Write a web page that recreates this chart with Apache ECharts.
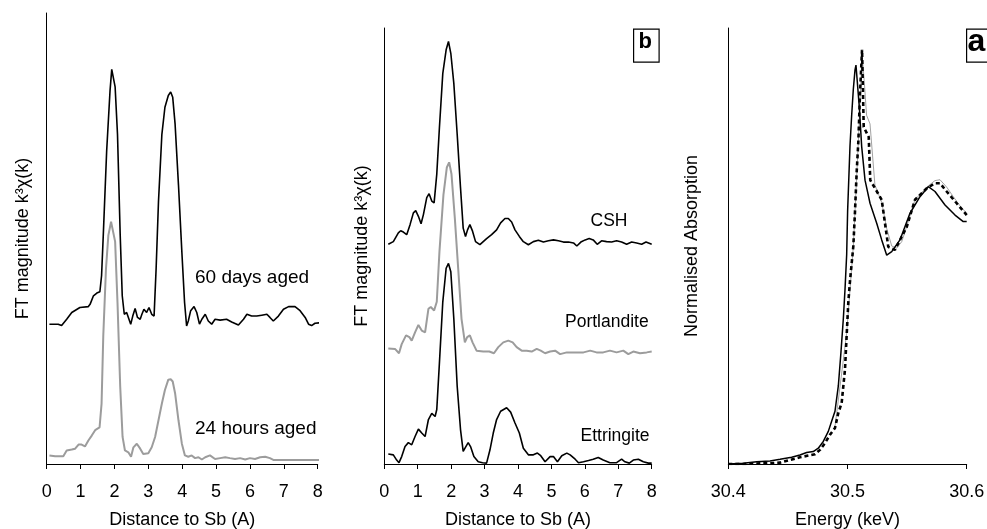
<!DOCTYPE html>
<html>
<head>
<meta charset="utf-8">
<script src="https://cdn.jsdelivr.net/npm/echarts@6/dist/echarts.min.js"></script>
<style>
html,body{margin:0;padding:0;background:#fff;}
#chart{width:987px;height:529px;}
</style>
</head>
<body>
<div id="chart"></div>
<script>
// ---------- Panel 1 : FT magnitude vs distance (aged samples) ----------
const days60 = [[0.08,31.0],[0.34,31.0],[0.44,30.7],[0.59,32.1],[0.74,33.6],[0.98,34.7],[1.23,34.9],[1.28,35.4],[1.38,37.3],[1.48,37.9],[1.57,38.2],[1.62,41.8],[1.67,50.7],[1.77,69.4],[1.87,82.8],[1.92,87.5],[1.97,87.5],[2.02,83.6],[2.09,73.1],[2.17,50.7],[2.23,37.3],[2.29,33.2],[2.36,33.6],[2.41,34.0],[2.48,31.0],[2.54,32.8],[2.61,34.5],[2.68,32.5],[2.76,32.1],[2.81,33.2],[2.87,34.3],[2.95,33.6],[3.02,34.7],[3.10,33.2],[3.17,32.8],[3.23,43.3],[3.30,58.2],[3.40,73.1],[3.49,79.1],[3.59,81.7],[3.66,82.5],[3.72,81.3],[3.79,75.4],[3.89,61.9],[3.99,47.0],[4.07,35.8],[4.13,30.6],[4.18,31.7],[4.25,34.0],[4.35,34.9],[4.43,33.6],[4.51,31.0],[4.58,32.1],[4.68,33.2],[4.77,31.7],[4.87,31.0],[4.97,32.1],[5.12,31.9],[5.31,32.1],[5.46,31.5],[5.66,30.8],[5.81,32.1],[5.91,33.2],[6.05,32.8],[6.20,32.8],[6.35,33.0],[6.50,33.2],[6.59,32.5],[6.69,31.7],[6.84,32.8],[6.99,34.3],[7.14,34.9],[7.33,34.9],[7.48,34.0],[7.63,32.5],[7.73,31.0],[7.82,30.7],[7.92,31.2],[8.05,31.3]];
const hours24 = [[0.08,1.9],[0.25,1.7],[0.49,1.7],[0.59,3.0],[0.74,3.2],[0.84,3.4],[0.94,4.3],[1.03,4.3],[1.13,3.9],[1.23,5.2],[1.33,6.3],[1.43,7.5],[1.56,8.1],[1.62,13.4],[1.67,28.4],[1.75,43.3],[1.82,50.7],[1.90,53.7],[1.95,53.4],[2.02,49.3],[2.09,35.8],[2.17,17.2],[2.24,6.0],[2.31,3.0],[2.41,2.6],[2.49,1.6],[2.56,3.7],[2.66,4.5],[2.76,3.4],[2.85,2.2],[3.00,2.4],[3.10,3.7],[3.20,6.0],[3.30,9.7],[3.40,13.4],[3.49,16.4],[3.59,18.7],[3.66,18.8],[3.72,18.3],[3.79,15.7],[3.89,9.7],[3.99,4.5],[4.08,1.9],[4.18,1.6],[4.28,1.9],[4.38,1.3],[4.48,1.5],[4.58,1.0],[4.68,1.5],[4.82,1.9],[4.97,1.1],[5.12,1.3],[5.27,1.5],[5.41,1.3],[5.56,1.1],[5.71,1.3],[5.86,1.0],[6.00,1.3],[6.15,1.1],[6.30,1.5],[6.45,1.6],[6.59,1.3],[6.69,0.9],[6.99,0.9],[7.48,0.9],[8.05,0.9]];

// ---------- Panel 2 : reference compounds ----------
const csh = [[0.12,50.4],[0.27,51.0],[0.42,53.0],[0.49,53.5],[0.57,53.2],[0.67,52.6],[0.77,54.9],[0.87,57.6],[0.94,58.1],[1.02,56.8],[1.10,55.1],[1.17,57.2],[1.27,61.1],[1.34,62.0],[1.42,60.3],[1.49,59.9],[1.57,66.5],[1.65,77.3],[1.75,89.6],[1.85,95.0],[1.92,96.9],[1.99,94.2],[2.08,87.3],[2.18,75.7],[2.28,63.4],[2.36,54.1],[2.43,52.2],[2.49,53.7],[2.56,54.9],[2.64,53.4],[2.73,51.0],[2.86,50.3],[2.96,51.0],[3.06,51.7],[3.21,52.6],[3.36,53.7],[3.48,55.3],[3.61,56.3],[3.71,56.3],[3.81,55.5],[3.91,53.7],[4.04,52.2],[4.16,51.0],[4.31,50.3],[4.46,51.0],[4.61,51.3],[4.76,50.9],[4.91,51.2],[5.06,51.4],[5.21,51.2],[5.36,50.9],[5.51,50.9],[5.66,50.7],[5.76,50.0],[5.88,50.9],[6.01,51.4],[6.13,51.7],[6.25,51.4],[6.37,50.4],[6.50,51.2],[6.65,51.0],[6.80,50.9],[6.95,51.2],[7.10,50.9],[7.25,50.4],[7.40,50.9],[7.55,50.7],[7.70,50.4],[7.83,50.9],[8.00,50.4]];
const portlandite = [[0.12,26.5],[0.32,26.4],[0.44,25.4],[0.52,27.5],[0.65,29.5],[0.75,29.1],[0.82,28.3],[0.92,30.2],[1.02,31.9],[1.12,30.6],[1.22,30.2],[1.32,35.6],[1.39,36.0],[1.49,35.2],[1.57,37.2],[1.65,48.7],[1.77,61.8],[1.87,68.0],[1.94,69.2],[2.01,66.5],[2.11,56.4],[2.21,44.9],[2.31,33.3],[2.41,27.9],[2.48,29.1],[2.56,29.5],[2.64,27.9],[2.76,26.0],[2.96,25.8],[3.14,25.8],[3.28,25.4],[3.41,26.8],[3.56,27.9],[3.71,28.3],[3.84,27.9],[3.96,26.8],[4.11,26.0],[4.26,26.0],[4.41,25.8],[4.56,26.4],[4.68,26.0],[4.81,25.4],[4.96,25.8],[5.11,26.0],[5.26,25.2],[5.46,25.6],[5.61,25.6],[5.76,25.6],[5.96,25.6],[6.16,26.0],[6.35,25.6],[6.55,25.6],[6.75,26.0],[6.95,25.6],[7.15,26.0],[7.30,25.2],[7.45,25.8],[7.65,25.4],[7.85,25.6],[8.00,25.8]];
const ettringite = [[0.12,2.3],[0.27,2.1],[0.37,0.9],[0.44,0.3],[0.52,1.7],[0.62,4.0],[0.72,4.9],[0.82,4.4],[0.92,6.3],[1.02,8.0],[1.12,7.1],[1.22,6.3],[1.32,10.2],[1.42,11.6],[1.52,10.9],[1.57,12.5],[1.65,23.3],[1.75,37.2],[1.85,44.9],[1.92,46.0],[1.99,44.1],[2.08,33.3],[2.18,17.9],[2.28,7.9],[2.36,2.9],[2.44,4.0],[2.51,4.9],[2.58,4.0],[2.68,1.7],[2.81,0.5],[2.94,0.3],[3.06,0.2],[3.16,3.2],[3.26,7.1],[3.36,10.2],[3.48,12.1],[3.66,12.9],[3.78,11.9],[3.91,9.4],[4.04,7.1],[4.16,3.6],[4.31,2.1],[4.46,2.1],[4.58,2.5],[4.68,1.9],[4.81,0.5],[4.96,1.7],[5.06,1.7],[5.18,0.5],[5.31,1.9],[5.46,2.5],[5.56,2.1],[5.71,1.1],[5.81,0.3],[5.96,0.5],[6.11,0.8],[6.25,1.1],[6.40,1.5],[6.55,0.9],[6.75,0.3],[6.95,0.3],[7.10,1.1],[7.20,0.5],[7.33,0.2],[7.45,0.9],[7.60,1.1],[7.75,0.5],[7.90,0.2],[8.00,0.2]];

// ---------- Panel 3 : XANES ----------
const xanesSolid = [[30.4000,0],[30.4126,0.15],[30.4238,0.54],[30.4350,0.69],[30.4434,1.08],[30.4531,1.54],[30.4601,2.08],[30.4657,2.62],[30.4713,2.85],[30.4755,3.62],[30.4797,5.17],[30.4839,7.48],[30.4867,9.79],[30.4895,12.1],[30.4923,17.9],[30.4945,25.6],[30.4965,33.3],[30.4979,40.0],[30.4993,48.0],[30.5001,58.0],[30.5013,67.0],[30.5021,73.0],[30.5035,80.0],[30.5049,86.0],[30.5063,90.4],[30.5071,91.5],[30.5099,81.9],[30.5119,72.8],[30.5147,65.1],[30.5189,59.8],[30.5245,55.2],[30.5287,51.4],[30.5329,47.9],[30.5371,48.7],[30.5440,51.4],[30.5524,57.5],[30.5608,61.3],[30.5678,63.6],[30.5734,62.5],[30.5818,59.4],[30.5902,57.1],[30.5971,55.6],[30.6000,55.6]];
const xanesDashed = [[30.4000,0],[30.4126,0],[30.4266,0.15],[30.4350,0.15],[30.4434,0.31],[30.4517,0.93],[30.4601,1.54],[30.4671,1.93],[30.4727,2.24],[30.4769,3.24],[30.4811,4.78],[30.4853,6.71],[30.4895,8.25],[30.4923,11.7],[30.4951,14.0],[30.4979,21.7],[30.4993,29.5],[30.5007,37.2],[30.5021,42.0],[30.5035,46.0],[30.5049,50.0],[30.5063,58.0],[30.5077,67.0],[30.5091,74.0],[30.5105,85.0],[30.5122,95.0],[30.5136,77.3],[30.5178,75.0],[30.5191,65.1],[30.5287,60.6],[30.5342,49.8],[30.5398,49.1],[30.5497,54.4],[30.5566,60.6],[30.5664,63.2],[30.5734,64.4],[30.5776,64.4],[30.5832,62.5],[30.5916,59.8],[30.6000,57.1]];
const xanesThin = [[30.4895,8.5],[30.4993,30],[30.5049,50],[30.5091,74],[30.5122,94],[30.5140,88],[30.5160,80],[30.5189,78],[30.5230,64],[30.5287,60],[30.5329,54],[30.5371,50],[30.5413,49.5],[30.5455,51],[30.5497,54.5],[30.5566,60.6],[30.5664,63.5],[30.5734,65],[30.5776,65.2],[30.5832,63.5],[30.5888,61.3],[30.5944,59.2],[30.6000,57.5]];

const distTicks = [0,1,2,3,4,5,6,7,8];
const energyTicks = [30.4,30.5,30.6];

const FONT = 'Liberation Sans, Arial, Helvetica, sans-serif';
const chart = echarts.init(document.getElementById('chart'), null, {renderer:'canvas'});

function xAx(idx, min, max, interval, name, fmt){
  return {
    type:'value', gridIndex:idx, min:min, max:max, interval:interval,
    name:name, nameLocation:'middle', nameGap:47,
    nameTextStyle:{fontFamily:FONT,fontSize:18,color:'#000'},
    axisLine:{show:true,onZero:false,lineStyle:{color:'#000',width:1}},
    axisTick:{show:true,inside:false,length:5,lineStyle:{color:'#000',width:1}},
    axisLabel:{show:true,margin:19,fontFamily:FONT,fontSize:18,color:'#000',formatter:fmt},
    splitLine:{show:false}
  };
}
function yAx(idx, name, gap){
  return {
    type:'value', gridIndex:idx, min:0, max:100,
    name:name, nameLocation:'middle', nameGap:gap,
    nameTextStyle:{fontFamily:FONT,fontSize:18,color:'#000'},
    axisLine:{show:true,onZero:false,lineStyle:{color:'#000',width:1}},
    axisTick:{show:false}, axisLabel:{show:false}, splitLine:{show:false}
  };
}
function line(xi, data, color, width, type){
  return {type:'line', xAxisIndex:xi, yAxisIndex:xi, data:data, showSymbol:false, symbol:'none',
    lineStyle:{color:color,width:width,type:type||'solid'}, silent:true, z: 3};
}
function label(text, x, y, size, weight){
  return {type:'text', left:x, top:y, silent:true,
    style:{text:text, x:0, y:0, fill:'#000', font:(weight||'normal')+' '+size+'px '+FONT,
      fontFamily:FONT, fontSize:size, fontWeight:weight||'normal'}};
}

const option = {
  animation:false,
  backgroundColor:'#fff',
  grid:[
    {left:46.7, top:13, width:271, height:451, outerBoundsMode:'none', containLabel:false},
    {left:384.3, top:28, width:267.4, height:436, outerBoundsMode:'none', containLabel:false},
    {left:728.3, top:28, width:238.4, height:436, outerBoundsMode:'none', containLabel:false}
  ],
  xAxis:[
    xAx(0, distTicks[0], distTicks[distTicks.length-1], 1, 'Distance to Sb (A)', v=>String(v)),
    xAx(1, distTicks[0], distTicks[distTicks.length-1], 1, 'Distance to Sb (A)', v=>String(v)),
    xAx(2, energyTicks[0], energyTicks[energyTicks.length-1], 0.1, 'Energy (keV)', v=>v.toFixed(1))
  ],
  yAxis:[
    yAx(0, 'FT magnitude k\u00B3\u03C7(k)', 15),
    yAx(1, 'FT magnitude k\u00B3\u03C7(k)', 13.5),
    yAx(2, 'Normalised Absorption', 27)
  ],
  series:[
    line(0, hours24, '#9c9c9c', 2),
    line(0, days60, '#000', 1.6),
    line(1, portlandite, '#9c9c9c', 2),
    line(1, csh, '#000', 1.6),
    line(1, ettringite, '#000', 1.6),
    line(2, xanesThin, '#8a8a8a', 0.8),
    line(2, xanesSolid, '#000', 1.5),
    line(2, xanesDashed, '#000', 2.6, [4,3])
  ],
  graphic:[
    label('60 days aged', 195, 268, 19),
    label('24 hours aged', 195, 419, 19),
    label('CSH', 590.5, 212, 17.5),
    label('Portlandite', 565, 313, 17.5),
    label('Ettringite', 580.5, 427, 17.5),
    {type:'rect', left:633, top:28.5, silent:true, shape:{x:0,y:0,width:25.5,height:33},
      style:{fill:'#fff',stroke:'#000',lineWidth:1.2}},
    {type:'text', left:638.5, top:31, silent:true,
      style:{text:'b', fill:'#000', font:'bold 22px '+FONT, fontFamily:FONT, fontSize:22, fontWeight:'bold'}},
    {type:'rect', left:966, top:28.5, silent:true, shape:{x:0,y:0,width:30,height:33},
      style:{fill:'#fff',stroke:'#000',lineWidth:1.2}},
    {type:'text', left:967.5, top:26, silent:true,
      style:{text:'a', fill:'#000', font:'bold 32px '+FONT, fontFamily:FONT, fontSize:32, fontWeight:'bold'}}
  ]
};
chart.setOption(option);
</script>
</body>
</html>
